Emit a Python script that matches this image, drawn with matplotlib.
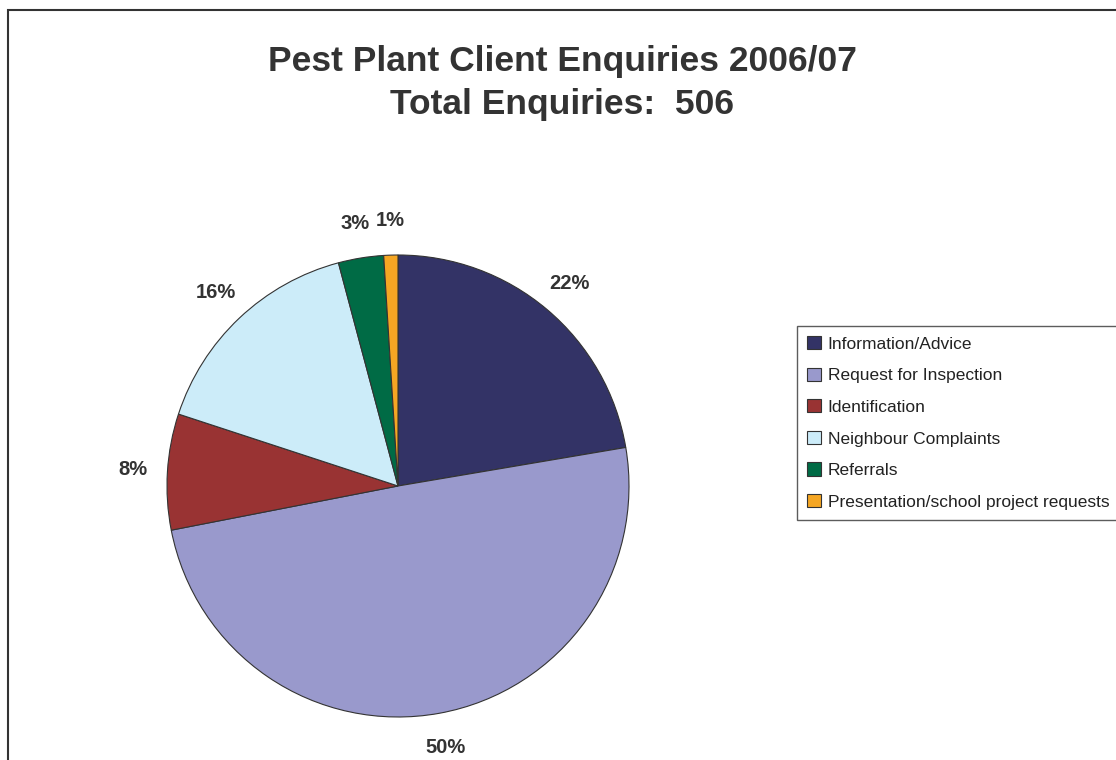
import matplotlib.pyplot as plt
from matplotlib.patches import Rectangle

# Data (counts out of 506)
categories = ['Information/Advice', 'Request for Inspection', 'Identification',
              'Neighbour Complaints', 'Referrals', 'Presentation/school project requests']
counts = [113, 251, 41, 80, 16, 5]
colors = ['#333366', '#9999CC', '#993333', '#CCECF9', '#006B45', '#F5A623']

fig = plt.figure(figsize=(11.16, 7.6), dpi=100)

# outer frame (right and bottom run off the image)
fig.patches.append(Rectangle((8 / 1116, -0.1), 1.2, 1.1 - 10 / 760, transform=fig.transFigure,
                             fill=False, edgecolor='#333333', linewidth=1.5))

fig.text(562 / 1116, 1 - 83 / 760, 'Pest Plant Client Enquiries 2006/07\nTotal Enquiries:  506',
         ha='center', va='center', fontsize=25.5, fontweight='bold', color='#333333',
         family='Liberation Sans', linespacing=1.4)

cx, cy, r = 398, 486, 231
ax = fig.add_axes([(cx - r) / 1116, (760 - cy - r) / 760, 2 * r / 1116, 2 * r / 760])
wedges, texts, autotexts = ax.pie(counts, colors=colors, startangle=90, counterclock=False,
                                  autopct=lambda p: '%d%%' % round(p), pctdistance=1.15,
                                  wedgeprops=dict(edgecolor='#333333', linewidth=0.8))
for t in autotexts:
    t.set_fontsize(14.5)
    t.set_fontweight('bold')
    t.set_color('#333333')
    t.set_family('Liberation Sans')
ax.set_xlim(-1, 1)
ax.set_ylim(-1, 1)

leg = fig.legend(wedges, categories, loc='upper left', bbox_to_anchor=(797 / 1116, 1 - 326 / 760),
                 frameon=True, fancybox=False, edgecolor='#333333',
                 prop=dict(family='Liberation Sans', size=12.5), handlelength=0.8, handleheight=0.8,
                 handletextpad=0.4, labelspacing=0.92, borderpad=0.57, borderaxespad=0)
leg.get_frame().set_linewidth(1.0)
for t in leg.get_texts():
    t.set_color('#222222')

fig.savefig('out.png', dpi=100)
